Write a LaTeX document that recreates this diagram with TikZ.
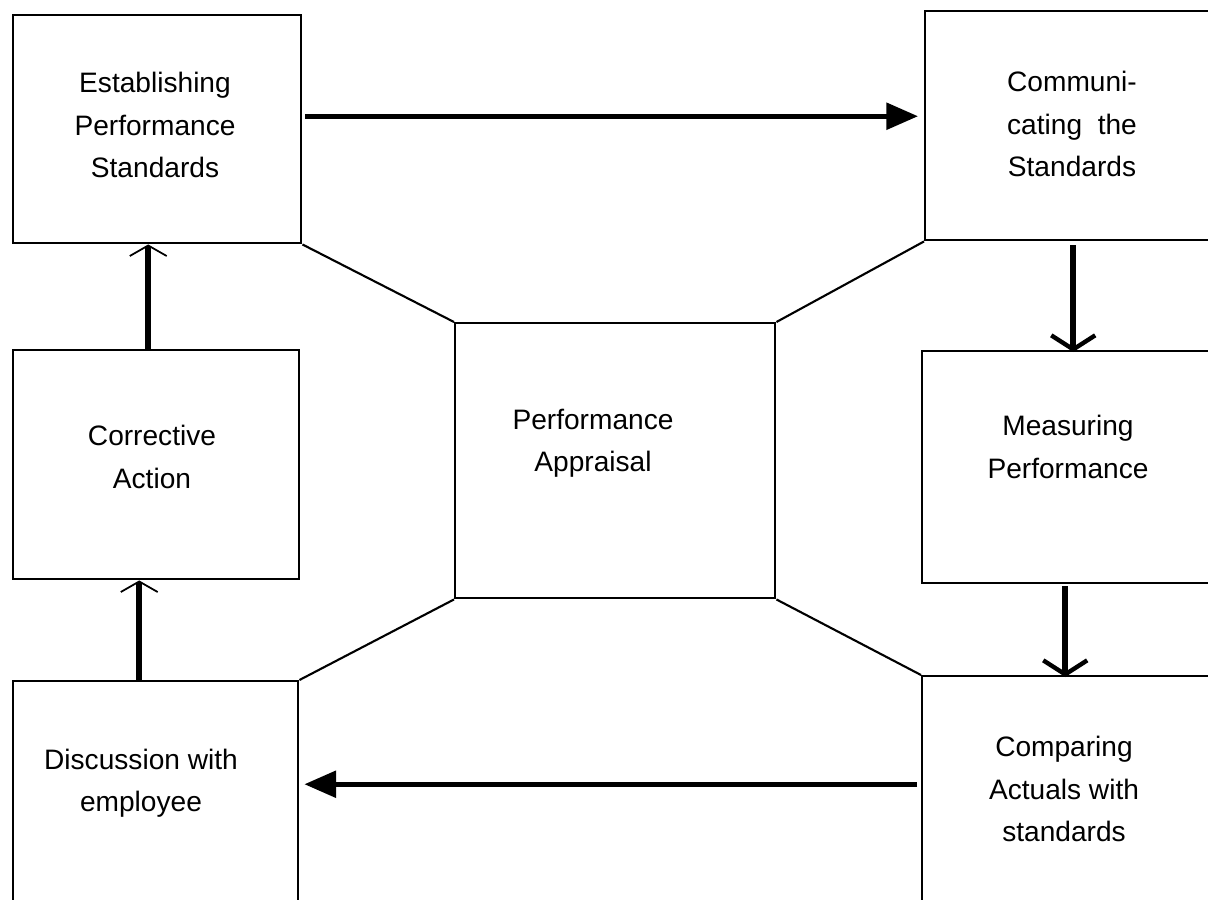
\documentclass[tikz,border=0pt]{standalone}
\usepackage{fontspec}
\setmainfont{Liberation Sans}
\usetikzlibrary{arrows.meta,calc}
\begin{document}
\begin{tikzpicture}[x=0.02cm,y=-0.02cm,
  box/.style={draw=black,line width=1.4pt,anchor=north west,inner sep=0pt,fill=none},
  lbl/.style={align=center,font=\fontsize{16pt}{24pt}\selectfont,inner sep=0pt},
  fatarrow/.style={line width=2.6pt,-{Triangle[length=18pt,width=15pt]}},
  barbthick/.style={line width=3.2pt,-{Straight Barb[length=8pt,width=25pt,line width=2.5pt]}},
  barbthin/.style={line width=3.2pt,-{Straight Barb[length=6pt,width=21pt,line width=1pt]}},
  link/.style={line width=1.2pt}]
\useasboundingbox (0,0) rectangle (1208,900);
\clip (0,0) rectangle (1208,900);
% boxes
\node[box,minimum width=288*0.02cm,minimum height=228*0.02cm] (E) at (12,14) {};
\node[box,minimum width=300*0.02cm,minimum height=229*0.02cm] (C) at (924,10) {};
\node[box,minimum width=286*0.02cm,minimum height=229*0.02cm] (R) at (12,349) {};
\node[box,minimum width=320*0.02cm,minimum height=275*0.02cm] (P) at (454,322) {};
\node[box,minimum width=300*0.02cm,minimum height=232*0.02cm] (M) at (921,350) {};
\node[box,minimum width=300*0.02cm,minimum height=260*0.02cm] (K) at (921,675) {};
\node[box,minimum width=285*0.02cm,minimum height=260*0.02cm] (D) at (12,680) {};
% labels
\node[lbl] (tE) at (155,125) {Establishing\\Performance\\Standards};
\node[lbl] (tC) at (1072,124) {Communi-\\cating~ the\\Standards};
\node[lbl] (tR) at (152,457) {Corrective\\Action};
\node[lbl] (tP) at (593,443) {Performance\\Appraisal};
\node[lbl] (tM) at (1068,447) {Measuring\\Performance};
\node[lbl] (tK) at (1064,789) {Comparing\\Actuals with\\standards};
\node[lbl] (tD) at (141,783) {Discussion with\\employee};
% diagonal links
\draw[link] (E.south east) -- (P.north west);
\draw[link] (C.south west) -- (P.north east);
\draw[link] (D.north east) -- (P.south west);
\draw[link] (K.north west) -- (P.south east);
% arrows
\draw[fatarrow] ($(E.east)+(3,-13)$) -- ($(C.west)+(-6,-9.5)$);
\draw[barbthick] ($(C.south)+(-2,4)$) -- ($(M.north)+(1,2)$);
\draw[barbthick] ($(M.south)+(-7,2)$) -- ($(K.north)+(-7,2)$);
\draw[fatarrow] ($(K.west)+(-4,-22)$) -- ($(D.east)+(5,-27)$);
\draw[barbthin] ($(D.north)+(-16.5,0)$) -- ($(R.south)+(-17,0)$);
\draw[barbthin] ($(R.north)+(-8,0)$) -- ($(E.south)+(-9,0)$);
\end{tikzpicture}
\end{document}
